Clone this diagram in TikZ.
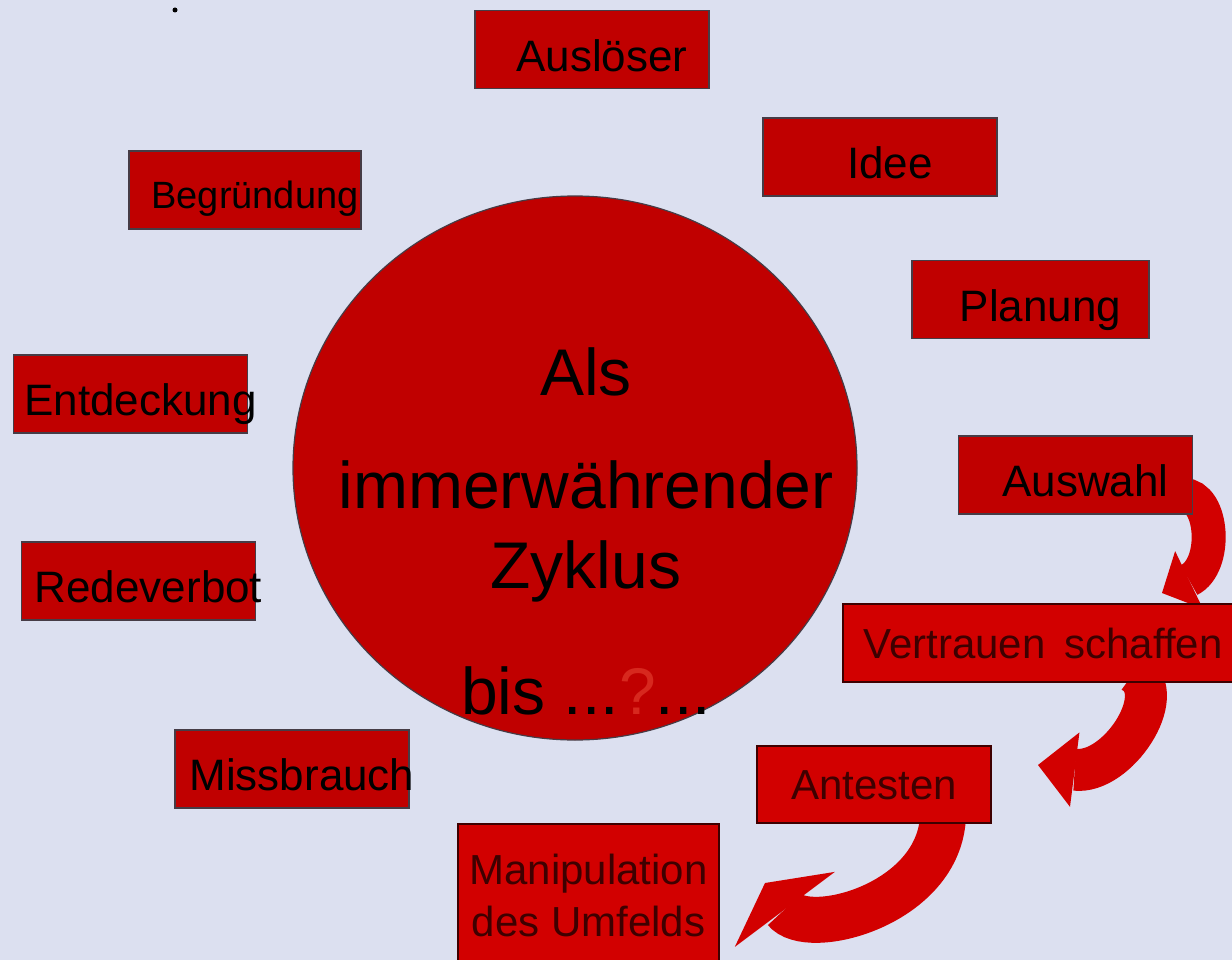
\documentclass[tikz,border=0pt]{standalone}
\usepackage{fontspec}
\setmainfont{Liberation Sans}
\usetikzlibrary{shapes.geometric, arrows.meta, positioning}
\definecolor{bgblue}{RGB}{220,224,240}
\definecolor{cred}{RGB}{192,0,0}
\definecolor{lred}{RGB}{210,0,0}
\definecolor{dred}{RGB}{62,0,0}
\definecolor{qred}{RGB}{215,40,30}
\definecolor{edge}{RGB}{70,60,70}
\pgfdeclarelayer{back}
\pgfsetlayers{back,main}
\newcommand{\lbl}[1]{\makebox[0pt]{\hspace*{20pt}#1}}

\begin{document}
\begin{tikzpicture}[x=1pt,y=-1pt,
    box/.style={draw=edge,line width=1.2pt,fill=cred,inner sep=0pt,
      minimum width=234pt,minimum height=78pt,text height=43.5pt,text depth=0pt,
      font=\fontsize{44}{50}\selectfont},
    fadebox/.style={box,fill=lred,draw=dred,text=dred,text height=30pt,
      font=\fontsize{42}{52}\selectfont},
    ring/.style={ellipse,draw=edge,line width=1.2pt,fill=cred,inner sep=0pt,
      minimum width=564pt,minimum height=544pt},
    curl/.style={line width=#1,draw=lred}]
    \useasboundingbox (0,0) rectangle (1232,960);
    %circle in the middle
    \node[ring] (zyklus) at (575,468) {};
    \node[align=center,anchor=base,font=\fontsize{66}{80}\selectfont] (zyklustext) at (586,714)
      {Als\\[33pt]immerwährender\\Zyklus\\[46pt]bis ...\textcolor{qred}{?}...};
    %boxes round it
    \node[box] (ausloeser) at (592,49.5) {\lbl{Auslöser}};
    \node[box] (idee) at (880,157) {\lbl{Idee}};
    \node[box,minimum width=237pt] (planung) at (1030.5,299.5) {\lbl{Planung}};
    \node[box] (auswahl) at (1075.5,475) {\lbl{Auswahl}};
    \node[box,font=\fontsize{38}{44}\selectfont,text height=37.2pt,minimum width=232pt] (begruendung) at (245,190) {\lbl{Begründung}};
    \node[box] (entdeckung) at (130.5,394) {\lbl{Entdeckung}};
    \node[box] (redeverbot) at (138.5,581) {\lbl{Redeverbot}};
    \node[box] (missbrauch) at (292,769) {\lbl{Missbrauch}};
    \node[fadebox,minimum width=400pt] (vertrauen) at (1043,643) {Vertrauen\hspace{0.45em}schaffen};
    \node[fadebox,minimum height=77pt] (antesten) at (874,784.5) {Antesten};
    \node[fadebox,minimum width=261pt,minimum height=143pt,align=center,text height=,text depth=] (manipulation) at (588.5,895.5)
      {Manipulation\\des Umfelds};
    \coordinate (tipa) at (1162,593);
    \coordinate (tipb) at (1038,765);
    \coordinate (tipc) at (765,883);
    \begin{pgfonlayer}{back}
      \fill[bgblue] (0,0) rectangle (1232,960);
      \fill[black] (175,10) circle[radius=2.5];
      \draw[curl=34pt,-{Triangle[length=30pt,width=64pt,line width=0pt]}]
        ([xshift=-10pt,yshift=-20pt]auswahl.east) .. controls (1214,495) and (1218,566) .. (tipa);
      \draw[curl=42pt,-{Triangle[length=37pt,width=75pt,line width=0pt]}]
        ([xshift=91pt,yshift=10pt]vertrauen.south) .. controls (1170,695) and (1117,775) .. (tipb);
      \draw[curl=46pt,-{Triangle[length=33pt,width=125pt,line width=0pt]}]
        ([xshift=69pt,yshift=8pt]antesten.south) .. controls (940,905) and (807,939) .. (tipc);
    \end{pgfonlayer}
\end{tikzpicture}
\end{document}
